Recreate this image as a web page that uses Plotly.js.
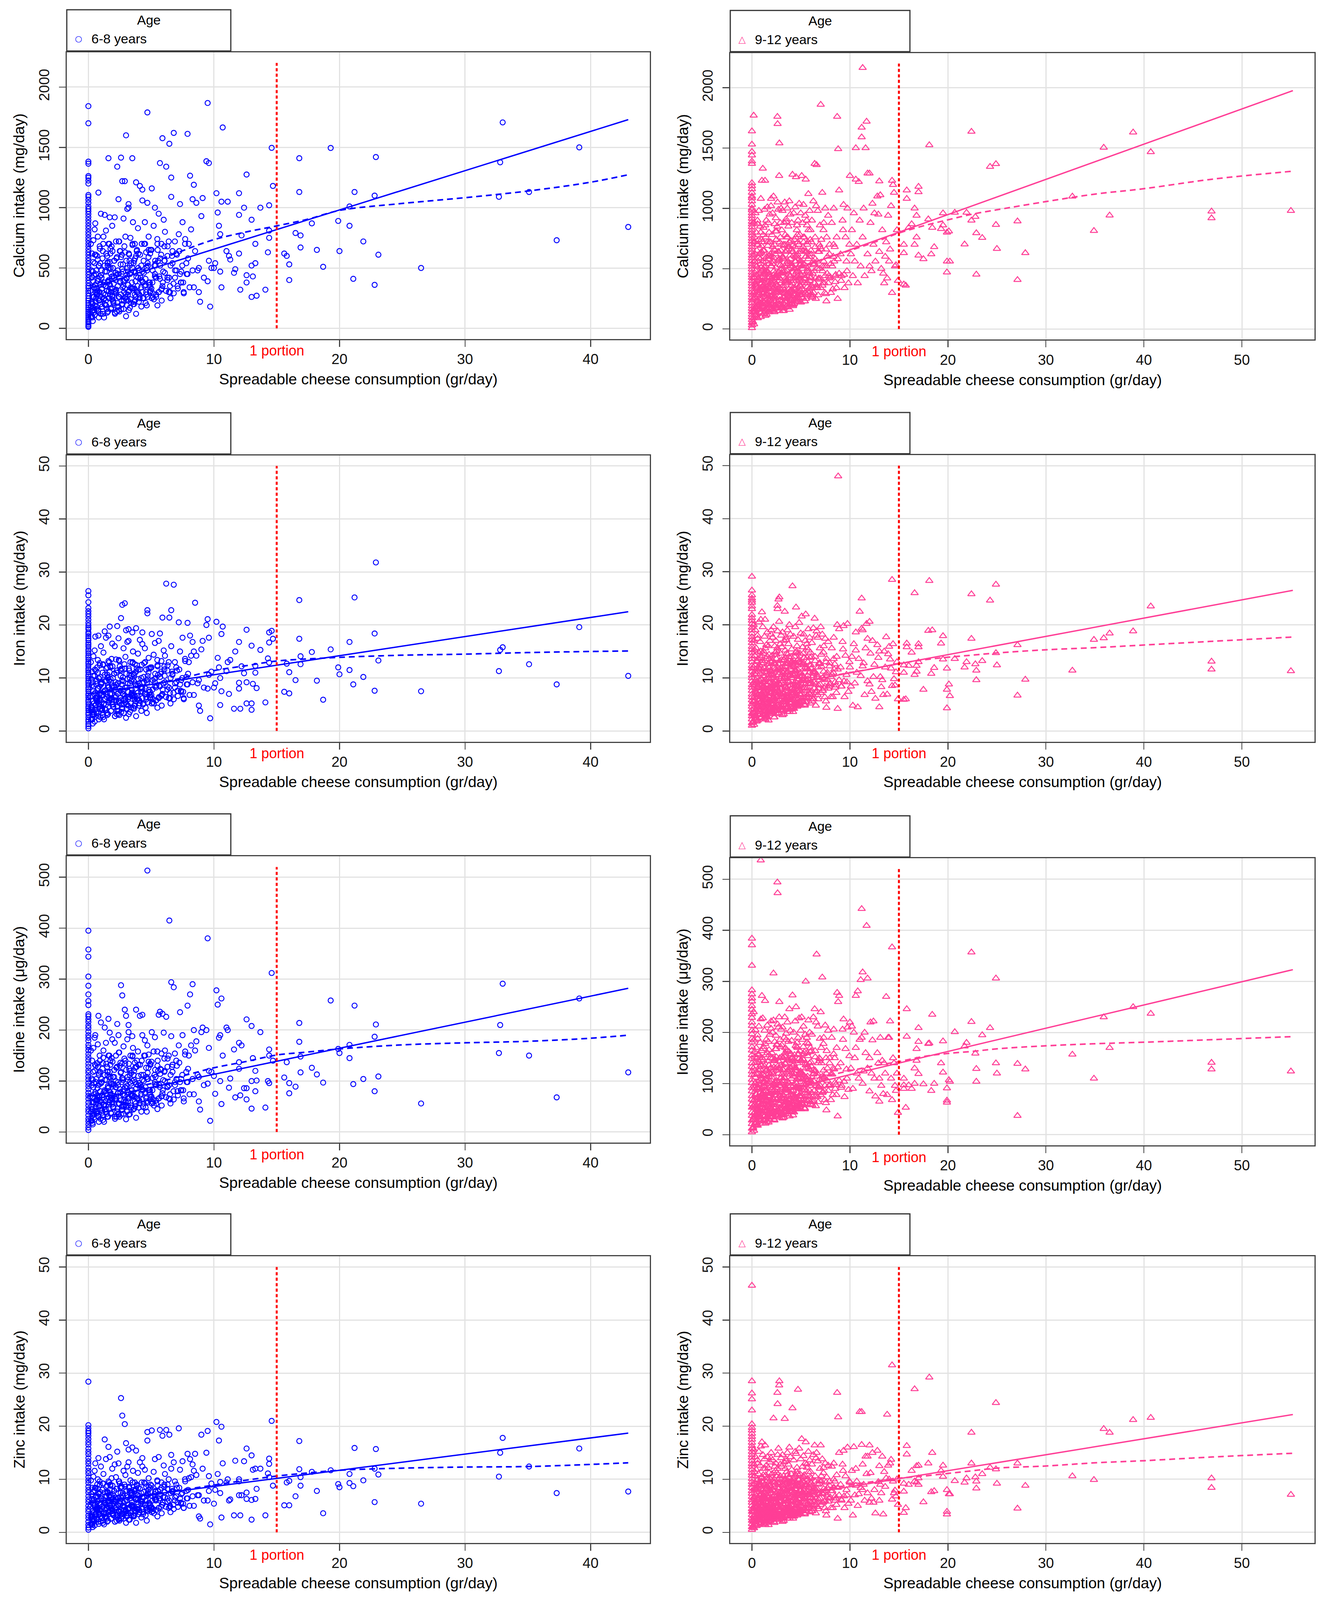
<!DOCTYPE html>
<html>
<head>
<meta charset="utf-8">
<script src="https://cdn.plot.ly/plotly-3.0.1.min.js"></script>
<style>
  html, body { margin: 0; padding: 0; background: #ffffff; overflow: hidden; }
  #chart { width: 100vw; height: 100vh; }
</style>
</head>
<body>
<div id="chart"></div>
<script>
// ---- 6-8 years: cheese eaters (g/day) and their intakes ----
const cheese68 = [
  0.15,0.2,0.25,0.3,0.3,0.35,0.4,0.4,0.45,0.5, 0.5,0.55,0.6,0.6,0.65,0.7,0.7,0.75,0.8,0.8, 0.85,0.9,0.9,0.95,1.0,0.2,0.35,0.5,0.65,0.8, 0.45,0.6,0.75,0.9,0.3,
  1.05,1.1,1.15,1.2,1.2,1.25,1.3,1.35,1.4,1.4, 1.45,1.5,1.5,1.55,1.6,1.6,1.65,1.7,1.7,1.75, 1.8,1.8,1.85,1.9,1.9,1.95,2.0,1.3,1.55,1.75,
  2.05,2.1,2.15,2.2,2.25,2.3,2.35,2.4,2.45,2.5, 2.55,2.6,2.65,2.7,2.75,2.8,2.85,2.9,2.95,3.0, 2.2,2.4,2.6,2.8,3.0,
  3.05,3.1,3.15,3.2,3.25,3.3,3.35,3.4,3.45,3.5, 3.55,3.6,3.65,3.7,3.75,3.8,3.85,3.9,3.95,3.2, 3.5,3.8,
  4.05,4.1,4.2,4.25,4.3,4.35,4.4,4.5,4.55,4.6, 4.65,4.7,4.75,4.8,4.9,4.95,4.7,4.3,
  5.05,5.1,5.2,5.3,5.35,5.4,5.5,5.6,5.65,5.7, 5.8,5.85,5.9,6.0,5.5,
  6.05,6.1,6.2,6.3,6.4,6.45,6.5,6.6,6.7,6.8, 6.9,6.6,
  7.0,7.1,7.2,7.3,7.4,7.5,7.6,7.7,7.8,7.9,
  8.0,8.1,8.3,8.4,8.6,8.7,8.8,8.9,8.5,
  9.0,9.1,9.4,9.5,9.5,9.6,9.7,9.8,
  10.0,10.1,10.2,10.3,10.4,10.5,10.5,10.6,10.6,10.7, 11.0,11.1,11.2,11.3,11.6,11.7,12.0,12.0,12.0,12.1, 12.2,12.4,12.6,12.6,12.6,13.0,13.0,13.0,13.1,13.3, 13.3,13.4,13.7,14.1,14.3,14.4,14.4,14.6,14.7,14.4,
  43.0,39.1,37.3,35.1,33.0,32.8,32.7,26.5,22.9,22.8, 22.8,23.1,21.2,21.1,20.8,20.8,21.9,19.3,19.9,20.0, 18.2,18.7,17.8,16.8,16.8,16.9,16.9,16.0,16.0,16.5, 15.6,15.8
];
const calcium68 = [
  310,95,480,620,210,150,730,390,260,540, 110,870,330,450,180,600,280,760,140,410, 520,230,680,360,950,700,60,820,160,1125, 440,250,570,300,200,
  420,180,640,290,760,90,520,350,810,230, 470,600,130,380,1410,700,250,550,920,330, 450,160,680,270,850,500,210,940,390,620,
  560,920,310,720,140,1340,480,1070,260,640, 380,1415,200,1220,530,910,300,1220,760,1600, 440,180,590,350,100,
  420,990,280,1030,610,170,750,460,330,1410, 880,540,220,700,390,1210,640,300,830,1000, 500,120,
  480,1180,340,700,1150,250,560,880,410,630, 190,1790,520,760,300,650,1040,1060,
  1160,380,850,1000,520,260,700,950,430,1370, 610,330,1576,900,190,
  560,800,1340,420,720,1530,300,1250,640,1620, 480,1090,
  620,350,780,1030,470,880,290,700,540,1612,
  700,1265,1070,1190,1040,480,300,220,640,
  930,1080,1385,1868,390,1370,180,500,
  500,540,1120,960,850,780,470,1050,340,1665, 640,1050,600,570,460,490,1120,620,940,320, 770,1000,1275,440,380,900,520,260,430,700, 540,270,1000,320,630,810,750,1496,1180,1020,
  840,1500,730,1130,1707,1376,1090,500,1420,1100, 360,610,1130,410,1010,850,720,1495,890,640, 650,510,870,1410,1130,670,770,530,400,790, 620,600
];
const iron68 = [
  6.5,2.1,9.8,11.2,4.3,3.0,14.1,7.5,5.2,10.4, 1.8,17.8,6.1,8.9,3.6,12.0,5.5,13.4,2.8,8.0, 9.9,4.6,12.8,7.1,16.0,13.0,1.4,15.2,3.3,18.0, 8.4,5.0,11.0,6.0,4.0,
  9.0,4.2,12.5,6.8,14.8,2.2,10.6,7.7,17.6,5.0, 9.5,12.0,3.0,8.3,18.0,13.2,5.8,11.1,19.7,7.0, 9.2,3.8,13.6,6.0,16.5,10.0,4.6,18.8,8.6,12.2,
  10.8,16.0,6.4,13.5,3.2,19.8,9.0,17.5,5.3,12.2, 7.6,21.3,4.4,23.8,10.1,15.6,6.0,24.1,14.0,19.0, 8.7,3.8,11.4,7.0,2.5,
  8.2,16.8,6.0,19.2,11.4,3.6,13.0,9.4,7.2,18.6, 15.0,10.8,4.8,12.6,8.0,19.4,11.8,6.6,14.6,17.0, 9.8,2.8,
  9.0,17.2,7.4,12.5,18.6,5.0,10.2,15.6,8.0,11.6, 3.4,22.8,9.8,13.8,6.2,12.0,22.2,16.4,
  18.3,7.8,14.4,16.6,10.0,5.8,12.4,17.0,8.6,18.4, 11.2,6.8,21.4,15.2,4.4,
  11.6,14.2,27.8,8.4,13.0,21.4,6.2,22.8,10.8,27.6, 9.0,16.0,
  12.0,7.6,20.5,15.0,9.6,17.6,6.0,13.6,10.2,20.4,
  13.0,18.0,16.8,15.0,14.2,9.0,4.8,3.8,24.2,
  15.4,17.0,20.0,21.1,8.0,17.6,2.4,11.2,
  8.2,9.0,20.6,13.8,12.0,10.0,4.9,18.3,7.5,19.7, 11.3,13.0,7.0,13.4,4.2,15.0,9.1,8.0,16.8,4.2, 12.2,10.9,19.1,9.2,5.2,16.1,4.0,5.2,8.9,11.0, 12.3,8.1,15.3,5.4,13.7,18.6,12.9,18.9,17.4,16.7,
  10.4,19.6,8.8,12.6,15.8,15.3,11.3,7.5,31.8,18.4, 7.6,13.3,25.2,8.8,16.8,11.5,10.2,15.4,12.0,10.7, 9.5,5.9,14.9,24.7,17.4,12.6,14.1,11.1,7.1,9.6, 7.4,12.7
];
const iodine68 = [
  70,22,105,140,45,35,165,88,58,120, 25,190,75,98,40,135,62,172,30,92, 115,52,150,80,215,160,15,185,36,228, 96,55,128,68,44,
  98,42,135,68,160,20,112,80,175,52, 102,128,30,86,222,150,58,118,195,72, 96,38,145,64,182,108,48,205,90,132,
  108,175,64,150,30,212,92,190,55,130, 78,288,44,268,105,168,62,240,140,228, 88,36,118,72,25,
  86,182,60,210,124,35,150,95,70,188, 165,112,46,136,84,240,128,66,158,196, 100,28,
  96,228,75,140,230,50,112,180,88,126, 40,513,104,152,64,132,170,190,
  196,82,158,186,108,56,130,230,92,236, 122,70,232,195,45,
  118,160,226,90,150,415,64,294,132,284, 98,188,
  140,80,170,235,104,190,60,152,118,248,
  150,270,290,200,178,112,60,44,160,
  196,205,200,380,95,165,22,118,
  110,75,278,250,185,190,100,262,55,150, 205,200,87,105,162,68,124,137,175,72, 170,86,221,86,64,208,46,100,145,120, 80,101,196,48,100,162,150,312,140,96,
  117,262,68,150,291,210,155,56,211,187, 80,109,248,94,171,145,104,258,163,155, 113,97,126,214,177,117,148,96,76,89, 107,137
];
const zinc68 = [
  4.8,1.6,7.2,8.4,3.1,2.2,10.5,5.6,3.8,7.9, 1.3,13.0,4.5,6.6,2.6,9.0,4.1,10.0,2.0,6.0, 7.4,3.4,9.6,5.2,12.4,9.8,1.0,11.6,2.4,14.0, 6.2,3.6,8.2,4.4,2.9,
  6.4,2.8,9.2,4.9,11.0,1.5,7.5,5.5,13.8,3.6, 6.9,8.8,2.0,5.8,16.1,9.6,4.0,8.0,14.2,5.0, 6.6,2.6,10.2,4.3,12.0,7.2,3.2,17.5,6.0,9.0,
  7.8,12.8,4.6,10.4,2.2,15.2,6.5,13.0,3.8,9.2, 5.4,25.3,3.0,22.0,7.4,11.6,4.2,20.4,10.8,16.8, 6.2,2.6,8.6,5.0,1.8,
  6.0,12.4,4.4,15.6,8.6,2.4,9.8,7.0,5.2,16.0, 11.6,8.0,3.2,9.4,6.2,15.4,9.0,4.8,11.2,13.2, 7.4,1.8,
  6.8,13.2,5.4,9.4,14.0,3.4,7.6,11.8,6.0,8.6, 2.2,18.9,7.2,10.2,4.2,9.0,17.3,12.4,
  19.2,6.0,11.4,13.8,7.6,4.2,9.6,14.2,6.4,19.3, 8.4,5.2,18.2,12.6,3.0,
  8.6,11.0,19.3,6.4,10.0,18.4,4.8,14.6,7.8,13.2, 6.6,12.0,
  9.0,5.6,19.6,11.8,7.2,13.4,4.6,10.0,7.8,14.8,
  10.2,13.8,12.8,11.6,10.8,7.0,3.0,2.6,14.8,
  18.4,12.0,15.0,19.1,6.0,10.6,1.5,9.2,
  5.4,8.0,20.8,11.0,17.3,9.5,7.4,19.9,2.8,13.0, 9.4,10.0,6.0,6.2,3.2,13.5,10.0,7.0,9.6,3.2, 7.0,13.4,15.8,6.3,7.5,14.5,6.1,2.4,11.8,12.0, 6.3,8.2,12.0,3.2,11.1,13.9,12.9,21.0,8.8,10.4,
  7.7,15.8,7.4,12.4,17.8,15.0,10.5,5.4,15.7,12.0, 5.7,10.9,15.9,8.7,11.0,9.3,9.8,11.7,9.1,8.5, 7.8,3.6,11.4,17.2,11.9,8.8,10.4,9.7,5.1,6.8, 5.1,9.4
];
// dense core of the 6-8 cloud
const cheese68Core = [
  0.22,0.27,0.33,0.38,0.42,0.47,0.52,0.57,0.62,0.67, 0.72,0.77,0.82,0.87,0.92,0.97,1.02,1.07,1.12,1.17,
  1.22,1.27,1.32,1.37,1.42,1.47,1.52,1.57,1.62,1.67, 1.72,1.77,1.82,1.87,1.92,1.97,2.02,2.07,2.12,2.17,
  2.22,2.27,2.32,2.37,2.42,2.47,2.52,2.57,2.62,2.67, 2.72,2.77,2.82,2.87,2.92,2.97,3.02,3.07,3.12,3.17,
  3.22,3.27,3.32,3.37,3.42,3.47,3.52,3.57,3.62,3.67, 3.72,3.77,3.82,3.87,3.92,3.97,4.02,4.12,4.22,4.32,
  4.42,4.52,4.62,4.72,4.82,4.92,5.02,5.12,5.22,5.32, 5.42,5.52,5.62,5.72,5.82,5.92,6.1,6.3,6.5,6.7,
  0.32,0.58,0.84,1.1,1.36,1.62,1.88,2.14,2.4,2.66, 2.92,3.18,3.44,3.7,3.96,4.3,4.6,4.9,5.3,5.7,
  0.25,0.36,0.48,0.59,0.71,0.83,0.94,1.06,1.18,1.29, 1.41,1.53,1.64,1.76,1.88,1.99,2.11,2.23,2.34,2.46,
  2.58,2.69,2.81,2.93,3.04,3.16,3.28,3.39,3.51,3.63, 3.74,3.86,3.98,4.09,4.21,4.33,4.44,4.56,4.68,4.79,
  4.91,5.03,5.14,5.26,5.38,5.49,5.61,5.73,5.84,5.96, 6.08,6.19,6.31,6.43,6.54,6.66,6.78,6.89,7.01,7.13,
  7.24,7.36,7.48,7.59,7.71,7.83,7.94,8.06,8.18,8.3, 0.3,0.55,0.8,1.05,1.3,1.55,1.8,2.05,2.3,2.55,
  2.8,3.05,3.3,3.55,3.8,4.05,4.3,4.55,4.8,5.05, 5.3,5.55,5.8,6.05,6.3,6.55,6.8,7.05,7.3,7.55,
  0.4,0.65,0.9,1.15,1.4,1.65,1.9,2.15,2.4,2.65, 2.9,3.15,3.4,3.65,3.9,4.15,4.4,4.65,4.9,5.15,
  0.28,0.5,0.73,0.97,1.22,1.47,1.72,1.97,2.22,2.47, 2.72,2.97,3.22,3.47,3.72,3.97,4.22,4.47,4.72,4.97,
  5.4,5.9,6.4,6.9,7.4,7.9,8.4,8.8,9.2,9.6
];
const calcium68Core = [
  180,420,260,550,130,340,610,220,480,300, 390,150,520,270,660,200,440,330,580,120,
  360,250,470,190,620,310,540,140,400,700, 280,500,170,430,640,230,370,560,120,460,
  320,590,210,450,720,260,390,530,160,610, 340,470,230,680,400,280,560,190,500,360,
  620,310,450,240,540,380,700,200,470,330, 580,260,430,650,350,500,220,610,400,300,
  460,700,280,540,380,620,330,480,240,560, 420,650,300,520,700,380,460,600,350,540,
  90,300,230,180,280,250,330,300,260,230, 250,300,330,280,420,390,300,360,450,410,
  220,470,150,610,330,90,540,260,700,380, 190,520,310,660,240,430,130,580,350,720,
  280,490,160,630,410,230,560,340,690,200, 460,300,620,250,520,380,700,210,480,590,
  340,650,260,520,420,740,300,580,230,470, 560,310,680,420,250,600,370,720,480,330,
  640,380,520,300,740,450,580,340,820,480, 140,360,250,480,200,550,300,420,180,640,
  390,240,520,330,600,280,470,360,650,250, 430,560,320,680,400,520,290,610,450,380,
  170,280,430,140,350,500,260,400,150,450, 330,470,210,560,300,420,250,500,380,290,
  100,190,310,120,240,160,360,220,290,140, 200,260,150,330,230,290,180,350,260,310,
  280,350,300,420,380,450,340,500,420,560
];
const iron68Core = [
  4.0,8.6,5.6,10.4,3.0,7.0,11.6,4.8,9.4,6.2, 8.0,3.4,10.0,5.8,12.4,4.2,8.8,6.8,11.0,2.6,
  7.4,5.2,9.4,4.0,11.8,6.4,10.6,3.2,8.2,13.0, 6.0,9.8,3.8,8.6,12.2,5.0,7.6,10.8,2.8,9.2,
  6.6,11.4,4.6,9.0,13.4,5.6,8.0,10.4,3.6,11.8, 7.0,9.4,5.0,12.6,8.2,6.0,10.8,4.2,9.8,7.4,
  11.8,6.4,9.0,5.2,10.4,7.8,13.0,4.4,9.4,6.8, 11.0,5.6,8.6,12.4,7.2,9.8,4.8,11.6,8.2,6.2,
  9.2,13.0,6.0,10.4,7.8,11.8,6.8,9.6,5.2,10.8, 8.6,12.2,6.4,10.2,13.2,7.8,9.2,11.4,7.2,10.6,
  2.2,6.2,5.0,4.0,6.0,5.4,7.0,6.4,5.6,5.0, 5.4,6.4,7.0,6.0,8.6,8.0,6.4,7.4,9.2,8.4,
  4.6,9.2,3.2,11.4,6.6,2.2,10.2,5.4,12.6,7.6, 4.0,10.0,6.2,12.0,5.0,8.4,2.8,11.0,7.0,13.2,
  5.8,9.6,3.4,11.8,8.2,4.8,10.6,6.8,12.8,4.2, 8.8,6.0,11.6,5.2,10.0,7.4,12.8,4.4,9.2,11.0,
  6.8,12.0,5.4,9.8,8.2,13.4,6.2,10.8,4.8,9.0, 10.4,6.4,12.4,8.2,5.2,11.2,7.2,13.0,9.2,6.6,
  11.6,7.6,10.0,6.2,13.2,8.8,10.8,6.8,14.2,9.2, 3.2,7.2,5.2,9.2,4.2,10.2,6.2,8.2,3.8,11.6,
  7.6,5.0,10.0,6.6,11.2,5.8,9.0,7.0,11.8,5.2, 8.4,10.6,6.6,12.2,7.8,10.0,6.0,11.4,8.8,7.4,
  3.6,5.8,8.4,3.0,7.0,9.6,5.4,7.8,3.2,8.8, 6.6,9.0,4.4,10.6,6.0,8.2,5.2,9.6,7.4,6.0,
  2.2,4.0,6.2,2.6,5.0,3.4,7.0,4.6,5.8,3.0, 4.2,5.4,3.2,6.6,4.8,6.0,3.8,7.0,5.4,6.4,
  5.8,7.0,6.2,8.2,7.4,8.8,6.8,9.6,8.2,10.6
];
const iodine68Core = [
  40,92,58,118,28,74,132,48,104,64, 86,32,112,60,140,44,96,72,124,24,
  78,54,102,40,134,66,118,30,88,150, 62,108,36,94,138,50,80,122,26,100,
  70,128,46,98,156,56,84,116,34,134, 74,102,50,144,88,60,122,40,108,78,
  134,66,98,52,116,82,150,44,102,70, 126,56,94,140,76,110,48,132,88,64,
  100,150,60,116,82,134,70,106,52,122, 92,140,66,114,154,82,100,128,74,118,
  18,62,50,38,60,54,72,66,56,50, 54,66,72,60,92,84,66,78,98,88,
  50,102,34,130,72,20,118,58,146,82, 44,112,68,140,54,94,30,126,76,156,
  62,106,36,134,90,52,120,74,148,46, 98,66,132,56,112,82,150,48,104,126,
  74,138,58,112,92,158,66,124,52,102, 120,68,144,92,56,128,80,154,104,72,
  136,82,112,66,158,98,124,74,170,104, 32,78,56,104,44,118,66,92,40,136,
  84,52,112,72,128,62,102,78,138,56, 94,120,70,144,88,112,64,130,98,82,
  38,62,94,32,76,108,58,88,34,98, 72,102,48,120,66,92,56,108,82,64,
  22,42,68,26,54,36,78,48,64,30, 44,58,34,72,50,64,40,76,58,68,
  62,76,66,92,82,98,74,108,92,120
];
const zinc68Core = [
  2.8,6.2,4.0,7.6,2.0,5.0,8.4,3.4,6.8,4.4, 5.8,2.4,7.2,4.2,9.0,3.0,6.4,4.8,8.0,1.8,
  5.2,3.6,6.8,2.8,8.6,4.6,7.6,2.2,6.0,9.4, 4.2,7.0,2.6,6.2,8.8,3.6,5.4,7.8,2.0,6.6,
  4.8,8.2,3.2,6.4,9.6,4.0,5.8,7.4,2.6,8.6, 5.0,6.8,3.6,9.0,5.8,4.2,7.8,3.0,7.0,5.2,
  8.4,4.6,6.4,3.6,7.4,5.6,9.4,3.2,6.6,4.8, 7.8,4.0,6.2,8.8,5.2,7.0,3.4,8.2,5.8,4.4,
  6.6,9.2,4.2,7.4,5.6,8.4,4.8,6.8,3.6,7.8, 6.2,8.8,4.6,7.2,9.4,5.6,6.6,8.2,5.0,7.6,
  1.4,4.4,3.6,2.8,4.2,3.8,5.0,4.6,4.0,3.6, 3.8,4.6,5.0,4.2,6.2,5.8,4.6,5.2,6.6,6.0,
  3.4,6.8,2.4,8.4,4.8,1.6,7.6,4.0,9.2,5.6, 3.0,7.4,4.6,8.8,3.6,6.2,2.0,8.2,5.2,9.6,
  4.2,7.0,2.6,8.6,6.0,3.6,7.8,5.0,9.4,3.0, 6.4,4.4,8.4,3.8,7.4,5.4,9.4,3.2,6.8,8.0,
  5.0,8.8,4.0,7.2,6.0,9.8,4.6,8.0,3.6,6.6, 7.6,4.8,9.0,6.0,3.8,8.2,5.2,9.6,6.8,4.8,
  8.4,5.6,7.4,4.6,9.6,6.4,8.0,5.0,10.4,6.8, 2.4,5.2,3.8,6.8,3.0,7.6,4.6,6.0,2.8,8.4,
  5.6,3.6,7.4,4.8,8.2,4.2,6.6,5.2,8.6,3.8, 6.2,7.8,4.8,9.0,5.8,7.4,4.4,8.4,6.4,5.4,
  2.6,4.2,6.2,2.2,5.2,7.0,4.0,5.8,2.4,6.4, 4.8,6.6,3.2,7.8,4.4,6.0,3.8,7.0,5.4,4.4,
  1.6,3.0,4.6,2.0,3.6,2.6,5.2,3.4,4.2,2.2, 3.0,4.0,2.4,4.8,3.6,4.4,2.8,5.2,4.0,4.6,
  4.2,5.2,4.6,6.0,5.4,6.4,5.0,7.0,6.0,7.8
];
// 6-8 years, no cheese (0 g/day)
const calcium68Zero = [12,20,33,47,60,76,91,108,124,139,157,173,192,210,229,247,268,290,311,333,352,376,398,421,445,468,490,514,537,561,584,609,631,655,680,703,728,751,777,800,826,849,874,898,923,947,970,990,1010,1040,1065,1090,1105,1200,1225,1248,1262,1365,1382,1700,1842];
const iron68Zero = [0.5,0.9,1.3,1.8,2.1,2.6,3.1,3.4,3.9,4.3,4.6,5.1,5.5,5.8,6.3,6.7,7.0,7.5,7.9,8.2,8.7,9.1,9.4,9.9,10.3,10.6,11.1,11.5,11.8,12.3,12.7,13.0,13.5,13.9,14.2,14.7,15.1,15.4,15.9,16.3,16.6,17.1,17.5,17.9,18.3,18.6,19.2,19.5,19.9,20.4,21.0,21.6,22.1,22.6,23.2,24.3,25.6,26.4];
const iodine68Zero = [4,9,15,21,26,33,40,45,52,58,65,71,77,84,90,96,103,109,116,121,128,134,141,147,153,160,166,171,179,185,190,197,204,209,216,221,227,231,249,257,270,287,305,344,358,395];
const zinc68Zero = [0.5,0.9,1.4,2.0,2.7,3.2,3.9,4.4,5.0,5.7,6.2,6.8,7.5,8.0,8.6,9.3,9.8,10.4,11.1,11.6,12.2,12.9,13.4,14.0,14.7,15.2,15.8,16.5,17.0,17.6,18.2,18.7,19.1,19.6,20.2,28.4];

// ---- 9-12 years ----
const cheese912 = [
  0.12,0.16,0.19,0.21,0.24,0.26,0.29,0.31,0.33,0.36, 0.39,0.41,0.44,0.46,0.49,0.51,0.53,0.56,0.59,0.61, 0.64,0.66,0.69,0.71,0.73,0.76,0.79,0.81,0.84,0.86, 0.89,0.91,0.93,0.96,0.99,1.02,0.28,0.48,0.68,0.88, 0.18,0.38,0.58,0.78,0.97,
  1.03,1.05,1.08,1.11,1.13,1.16,1.18,1.21,1.24,1.26, 1.29,1.31,1.34,1.37,1.39,1.42,1.44,1.47,1.49,1.52, 1.55,1.57,1.6,1.62,1.65,1.68,1.7,1.73,1.75,1.78, 1.81,1.83,1.86,1.88,1.91,1.94,1.96,1.99,1.15,1.35, 1.55,1.75,1.95,1.25,1.45,
  2.02,2.05,2.08,2.11,2.14,2.17,2.2,2.23,2.26,2.29, 2.32,2.35,2.38,2.41,2.44,2.47,2.5,2.53,2.56,2.59, 2.62,2.65,2.68,2.71,2.74,2.77,2.8,2.83,2.86,2.89, 2.92,2.95,2.98,2.6,2.62,2.78,2.2,2.4,2.9,2.3,
  3.02,3.05,3.09,3.12,3.15,3.19,3.22,3.25,3.29,3.32, 3.35,3.39,3.42,3.45,3.49,3.52,3.55,3.59,3.62,3.65, 3.69,3.72,3.75,3.79,3.82,3.85,3.89,3.92,3.95,3.99, 3.3,3.5,3.7,3.9,3.4,
  4.02,4.06,4.1,4.14,4.18,4.22,4.26,4.3,4.34,4.38, 4.42,4.46,4.5,4.54,4.58,4.62,4.66,4.7,4.74,4.78, 4.82,4.86,4.9,4.94,4.98,4.2,4.4,4.6,4.8,4.5,
  5.03,5.08,5.12,5.17,5.21,5.26,5.3,5.35,5.4,5.44, 5.49,5.53,5.58,5.62,5.67,5.71,5.76,5.8,5.85,5.89, 5.94,5.98,5.3,5.6,5.9,
  6.05,6.12,6.2,6.27,6.35,6.4,6.45,6.52,6.6,6.65, 6.72,6.8,6.87,6.94,6.3,6.55,6.75,6.9,
  7.02,7.1,7.18,7.25,7.33,7.4,7.48,7.55,7.63,7.7, 7.78,7.85,7.93,7.3,7.6,
  8.05,8.15,8.25,8.35,8.45,8.55,8.65,8.7,8.8,8.9, 8.75,8.3,
  9.05,9.15,9.25,9.35,9.45,9.55,9.65,9.75,9.85,9.95, 9.3,9.7,
  10.0,10.1,10.2,10.3,10.4,10.5,10.6,10.6,10.7,10.8, 10.9,11.0,11.1,11.2,11.2,11.3,11.3,11.5,11.6,11.7, 11.8,11.8,12.0,12.0,12.1,12.2,12.3,12.4,12.5,12.6, 12.8,12.9,13.0,13.0,13.1,13.2,13.3,13.4,13.5,13.6, 13.7,13.8,13.9,14.0,14.1,14.2,14.3,14.3,14.4,14.5, 14.6,14.7,14.8,14.9,11.4,
  55.0,46.9,46.9,40.7,38.9,35.9,36.5,34.9,32.7,27.1, 27.1,27.9,24.9,24.3,22.4,24.9,25.0,22.9,23.5,22.9, 21.7,22.8,22.4,21.9,20.7,19.5,19.3,19.5,19.9,20.1, 18.4,18.0,18.6,18.3,19.9,19.9,20.2,17.0,16.8,16.6, 17.0,17.0,16.8,16.3,16.0,18.1,15.8,15.8,15.5,15.5, 15.7,15.5,16.6,17.5
];
const calcium912 = [
  250,610,140,880,420,310,720,180,530,960, 370,260,800,450,120,650,340,900,230,560, 410,740,160,980,300,620,470,200,850,380, 540,1080,280,690,430,1230,760,100,590,330, 1770,480,870,220,640,
  380,720,190,1330,560,290,840,450,130,650, 990,340,1230,520,230,760,410,900,170,600, 470,1010,280,690,360,880,140,540,800,310, 430,950,250,620,720,380,1080,200,500,860, 330,580,1020,460,150,
  420,780,210,960,560,330,1100,480,150,700, 870,390,620,260,920,510,740,180,440,850, 1050,640,300,990,570,400,1540,720,240,880, 460,650,1000,1760,1700,1270,340,810,530,140,
  460,820,230,980,590,360,700,150,880,520, 1050,300,640,420,910,250,760,480,1000,180, 560,850,390,680,1060,270,610,950,440,730, 320,890,540,200,780,
  520,880,270,1280,640,400,960,210,740,560, 1010,330,1260,470,820,600,250,900,440,700, 1040,360,780,530,960,190,680,860,420,610,
  560,1270,300,880,680,1030,420,760,230,940, 1240,520,640,860,350,720,1120,470,600,980, 280,820,540,900,400,
  620,900,340,1060,480,1370,760,250,1360,560, 980,420,700,860,300,1020,640,500,
  1860,660,1130,380,880,520,1000,290,760,600, 940,440,700,820,230,
  540,880,330,1000,680,450,760,1760,1492,1150, 250,600,
  620,440,900,1030,340,760,560,1000,380,700, 820,480,
  1270,620,820,440,960,560,1500,1240,700,380, 1220,900,520,1590,1670,2165,760,440,1500,1720, 1290,620,1290,520,880,480,1040,700,960,560, 1100,950,1225,640,1110,500,820,460,380,600, 720,420,940,560,660,1020,1230,300,1195,1130, 520,530,820,400,1000,
  980,975,919,1467,1630,1504,942,814,1099,893, 407,630,1368,1345,1636,864,665,795,756,452, 702,930,900,965,965,960,830,860,800,810, 840,910,680,620,470,560,560,610,760,700, 1180,1135,940,870,840,1525,1150,1080,700,630, 360,370,1000,580
];
const iron912 = [
  5.5,12.0,2.8,17.0,8.6,6.4,14.2,3.5,10.6,19.0, 7.4,5.2,15.6,9.2,2.2,13.0,6.8,18.0,4.6,11.2, 8.2,14.8,3.2,20.5,6.0,12.4,9.4,4.0,16.8,7.6, 10.8,21.0,5.6,13.8,8.6,22.4,15.2,1.8,11.8,6.6, 20.0,9.6,17.4,4.4,12.8,
  7.0,13.2,3.0,19.6,10.4,5.2,15.0,8.4,2.4,11.8, 17.8,6.4,21.0,9.6,4.2,13.6,7.6,16.2,2.8,11.0, 8.8,18.6,5.0,12.6,6.6,16.0,2.0,10.0,14.4,5.8, 8.0,17.0,4.6,11.4,13.0,7.0,19.0,3.6,9.2,15.6, 6.0,10.6,18.2,8.4,2.6,
  8.0,14.2,3.8,17.6,10.4,6.2,19.6,9.0,2.6,12.8, 16.0,7.2,11.6,4.6,17.0,9.4,13.6,3.2,8.2,15.6, 18.8,11.8,5.6,24.8,10.6,7.4,25.2,13.2,4.4,16.4, 8.6,12.0,18.0,23.6,23.0,20.6,6.2,14.8,9.8,2.6,
  9.0,15.8,4.6,18.6,11.6,7.0,13.4,3.2,17.0,10.2, 22.5,6.0,12.6,8.4,17.6,5.0,14.6,9.4,19.0,3.6, 11.0,16.4,7.6,13.2,20.0,5.4,12.0,18.2,8.6,14.0, 6.4,17.2,10.6,4.0,15.2,
  10.0,15.4,5.4,27.3,12.4,7.8,17.8,4.2,14.0,10.8, 19.6,6.6,23.3,9.0,15.0,11.6,4.8,17.2,8.4,13.0, 20.4,7.0,14.6,10.2,18.4,3.6,12.8,16.0,8.0,11.4,
  10.4,21.6,6.0,15.8,12.6,18.2,8.2,13.8,4.8,17.0, 22.0,9.6,11.8,15.6,6.8,13.0,19.2,9.0,11.0,17.6, 5.2,14.8,10.2,16.4,7.6,
  11.8,16.6,6.8,19.4,9.2,21.2,14.0,4.8,18.8,10.6, 17.6,8.0,12.8,15.6,6.0,18.0,12.0,9.6,
  19.6,12.2,18.2,7.6,16.0,9.8,17.4,5.6,13.6,11.0, 16.8,8.4,12.8,14.8,4.4,
  10.2,15.6,6.4,17.6,12.6,8.6,14.0,20.0,48.0,19.2, 4.2,11.0,
  12.0,8.4,16.8,19.8,6.4,14.2,10.6,20.2,7.4,13.0, 15.4,9.2,
  12.0,8.4,14.0,4.8,16.4,9.0,18.6,15.2,11.0,4.5, 13.6,22.5,10.4,19.3,25.0,19.0,12.2,6.8,15.6,20.2, 17.4,9.4,20.6,8.8,14.6,7.4,17.0,10.2,12.5,6.1, 16.2,13.8,15.0,4.5,10.2,8.3,9.6,6.8,15.0,12.0, 17.7,6.9,14.5,15.9,13.5,11.8,28.5,8.5,16.4,9.8, 8.6,11.1,13.0,6.0,12.8,
  11.3,13.1,11.6,23.5,18.8,17.5,18.4,17.2,11.4,16.2, 6.7,9.7,27.6,24.6,25.8,14.7,12.4,11.4,13.2,9.6, 12.0,12.6,17.4,13.0,13.6,17.9,16.5,13.5,11.8,8.8, 19.0,18.9,11.9,10.8,4.3,7.8,6.6,13.0,12.3,10.6, 16.4,15.8,11.2,14.8,12.3,28.3,16.5,15.8,12.4,11.0, 6.0,5.9,26.0,7.8
];
const iodine912 = [
  55,130,30,185,92,68,152,38,112,205, 80,56,170,96,24,140,72,195,48,120, 88,158,34,212,64,132,100,42,180,82, 116,226,60,146,90,272,162,18,126,70, 240,102,188,46,136,
  80,150,38,228,118,60,172,94,28,134, 204,72,262,108,48,156,86,186,34,126, 100,214,56,144,76,182,24,114,166,66, 92,196,52,130,150,80,222,40,104,178, 68,120,208,96,30,
  88,160,42,200,118,70,224,100,30,146, 182,82,130,54,194,106,152,36,92,176, 216,134,62,210,120,84,260,150,50,186, 96,136,206,494,473,230,316,168,110,28,
  100,175,50,210,128,78,150,34,190,112, 230,64,138,92,198,54,166,104,220,40, 122,182,86,146,246,60,132,204,96,158, 70,186,118,44,170,
  110,184,58,273,134,86,200,44,156,118, 222,70,250,100,172,126,52,190,94,148, 228,76,164,112,204,38,144,180,90,130,
  120,230,66,186,148,212,92,162,50,196, 300,112,138,180,76,154,224,102,128,200, 60,170,116,190,86,
  134,196,74,230,104,246,164,56,353,120, 212,92,150,188,66,220,140,108,
  240,140,308,84,190,112,214,62,164,130, 204,96,150,178,48,
  118,190,78,206,150,98,170,278,260,272, 36,130,
  140,96,206,226,74,168,128,210,88,154, 186,110,
  220,130,212,90,200,150,272,170,120,281, 110,186,303,442,190,318,100,200,160,409, 306,130,150,85,220,120,185,222,110,75, 160,140,110,65,190,96,145,80,140,120, 270,78,190,190,222,110,367,68,150,140, 96,86,120,43,124,
  124,141,128,237,250,230,170,110,157,139, 37,128,306,209,357,140,120,129,195,104, 173,159,221,180,201,183,140,122,91,107, 235,178,100,86,63,67,104,119,168,130, 209,182,145,90,97,179,246,192,110,97, 53,90,100,99
];
const zinc912 = [
  4.0,9.0,2.0,12.8,6.4,4.8,10.6,2.6,8.0,14.2, 5.6,3.8,11.8,6.8,1.6,9.8,5.0,13.6,3.4,8.4, 6.2,11.0,2.4,15.2,4.4,9.4,7.0,3.0,12.6,5.6, 8.2,16.2,4.2,10.2,6.4,17.0,11.4,1.2,8.8,5.0, 15.6,7.2,13.0,3.2,9.6,
  5.4,10.4,2.4,14.6,8.0,3.8,12.0,6.6,1.6,9.0, 13.8,4.8,16.4,7.4,3.0,10.8,5.8,12.6,2.0,8.6, 6.8,14.2,3.6,9.8,5.0,12.2,1.4,7.8,11.2,4.4, 6.2,13.2,3.4,8.8,10.0,5.2,15.0,2.6,7.0,12.0, 4.6,8.2,14.0,6.4,1.8,
  6.2,11.0,2.8,13.6,8.0,4.8,21.5,7.0,2.0,10.0, 12.4,5.6,9.0,3.6,13.0,7.4,10.6,2.4,6.4,12.0, 14.6,9.2,4.2,15.8,8.2,5.8,28.5,10.2,3.2,12.8, 6.8,9.4,14.0,26.3,24.2,27.7,4.8,11.6,7.6,1.8,
  7.2,12.4,3.4,14.6,9.0,5.4,10.6,2.2,13.2,8.0, 21.4,4.4,9.8,6.4,13.8,3.6,11.4,7.2,15.0,2.6, 8.6,12.8,5.8,10.4,16.0,4.0,9.4,14.2,6.8,11.0, 5.0,13.4,8.2,3.0,12.0,
  7.6,11.8,4.0,23.4,9.4,6.0,13.6,3.0,10.6,8.2, 15.2,5.0,14.8,7.0,11.4,8.8,3.6,26.9,6.4,9.8, 15.8,5.4,11.0,7.8,13.8,2.6,9.6,12.2,6.2,8.6,
  8.0,17.6,4.6,12.4,9.6,14.4,6.2,10.8,3.4,13.0, 17.0,7.4,9.0,12.2,5.2,10.0,15.2,7.0,8.4,13.6, 3.8,11.4,7.8,12.8,5.8,
  9.2,12.8,5.0,14.6,7.0,16.4,10.6,3.6,15.0,8.2, 13.4,6.2,9.8,12.0,4.4,14.0,9.0,7.2,
  16.4,9.6,13.8,5.6,12.2,7.4,13.0,4.0,10.4,8.4, 12.6,6.4,9.6,11.2,3.2,
  7.8,12.4,4.6,13.0,9.6,6.4,10.8,26.3,21.7,15.0, 2.6,8.4,
  9.0,6.0,12.8,15.4,4.6,10.6,8.0,16.0,5.4,9.6, 11.6,7.0,
  9.4,6.0,11.6,3.2,16.1,7.0,12.0,8.8,9.6,5.0, 7.2,22.7,8.4,22.7,16.5,12.8,8.0,6.0,14.3,11.0, 14.3,7.4,16.4,5.6,11.2,6.4,15.0,5.6,8.0,3.6, 15.4,9.5,12.5,6.0,9.0,7.4,14.3,3.4,11.4,8.6, 10.2,22.2,12.6,10.0,13.0,13.7,31.5,6.2,9.6,7.4, 7.9,6.8,10.0,5.2,9.0,
  7.1,10.2,8.4,21.6,21.2,19.5,18.8,9.9,10.6,13.0, 4.5,8.8,24.4,12.2,18.8,11.9,9.2,9.6,11.0,8.3, 9.4,10.4,13.0,10.2,9.7,12.6,11.6,10.5,8.0,7.2, 15.0,13.0,7.8,7.6,3.4,3.9,7.2,9.0,12.5,9.6, 12.6,10.2,9.4,11.6,9.0,29.2,16.3,14.7,9.2,7.7, 4.6,3.7,27.0,5.7
];
// dense core of the 9-12 cloud
const cheese912Core = [
  0.14,0.2,0.26,0.32,0.38,0.44,0.5,0.56,0.62,0.68, 0.74,0.8,0.86,0.92,0.98,1.04,1.1,1.16,1.22,1.28,
  1.34,1.4,1.46,1.52,1.58,1.64,1.7,1.76,1.82,1.88, 1.94,2.0,2.06,2.12,2.18,2.24,2.3,2.36,2.42,2.48,
  2.54,2.6,2.66,2.72,2.78,2.84,2.9,2.96,3.02,3.08, 3.14,3.2,3.26,3.32,3.38,3.44,3.5,3.56,3.62,3.68,
  3.74,3.8,3.86,3.92,3.98,4.04,4.1,4.16,4.22,4.28, 4.34,4.4,4.46,4.52,4.58,4.64,4.7,4.76,4.82,4.88,
  4.94,5.0,5.08,5.16,5.24,5.32,5.4,5.48,5.56,5.64, 5.72,5.8,5.88,5.96,6.06,6.16,6.26,6.36,6.46,6.56,
  6.66,6.76,6.86,6.96,7.08,7.2,7.32,7.44,7.56,7.68, 7.8,7.92,8.06,8.2,8.34,8.48,8.62,8.76,8.9,9.1,
  0.17,0.29,0.41,0.53,0.65,0.77,0.89,1.01,1.13,1.25, 1.37,1.49,1.61,1.73,1.85,1.97,2.09,2.21,2.33,2.45,
  2.57,2.69,2.81,2.93,3.05,3.17,3.29,3.41,3.53,3.65, 3.77,3.89,4.01,4.13,4.25,4.37,4.49,4.61,4.73,4.85,
  4.97,5.12,5.28,5.44,5.6,5.76,5.92,6.1,6.3,6.5, 0.23,0.47,0.71,0.95,1.19,1.43,1.67,1.91,2.15,2.39,
  2.63,2.87,3.11,3.35,3.59,3.83,4.07,4.31,4.55,4.79, 5.04,5.36,5.68,6.0,6.4,6.8,7.2,7.6,8.0,8.4,
  0.35,0.59,0.83,1.07,1.31,1.55,1.79,2.03,2.27,2.51, 2.75,2.99,3.23,3.47,3.71,3.95,4.19,4.43,4.67,4.91,
  5.2,5.52,5.84,6.2,6.6,7.0,7.4,7.9,8.5,9.4, 0.11,0.22,0.37,0.6,0.9,1.2,1.5,1.8,2.1,2.45,
  2.8,3.15,3.5,3.85,4.2,4.6,5.0,5.5,6.0,0.9,
  0.15,0.27,0.4,0.52,0.65,0.77,0.9,1.02,1.15,1.27, 1.4,1.52,1.65,1.77,1.9,2.02,2.15,2.27,2.4,2.52,
  2.65,2.77,2.9,3.02,3.15,3.27,3.4,3.52,3.65,3.77, 3.9,4.02,4.15,4.27,4.4,4.52,4.65,4.77,4.9,5.02,
  5.15,5.27,5.4,5.52,5.65,5.77,5.9,6.02,6.15,6.27, 0.2,0.45,0.7,0.95,1.2,1.45,1.7,1.95,2.2,2.45,
  2.7,2.95,3.2,3.45,3.7,3.95,4.2,4.45,4.7,4.95, 5.2,5.45,5.7,5.95,6.2,6.45,6.7,6.95,7.2,7.45,
  0.32,0.57,0.82,1.07,1.32,1.57,1.82,2.07,2.32,2.57, 2.82,3.07,3.32,3.57,3.82,4.07,4.32,4.57,4.82,5.07,
  0.13,0.38,0.63,0.88,1.13,1.38,1.63,1.88,2.13,2.38, 2.63,2.88,3.13,3.38,3.63,3.88,4.13,4.38,4.63,4.88
];
const calcium912Core = [
  140,430,260,620,180,350,520,230,700,300, 460,160,580,320,740,210,400,650,270,510,
  380,150,560,290,720,200,450,610,340,240, 520,170,400,680,260,590,350,460,200,740,
  310,560,220,640,420,270,760,380,500,180, 600,340,470,230,700,400,540,290,650,200,
  450,720,310,580,250,660,380,520,200,610, 340,560,760,290,480,620,230,700,410,530,
  360,640,280,520,760,440,230,600,380,700, 480,300,620,420,720,260,560,380,680,340,
  500,280,640,420,740,360,560,300,660,460, 380,620,300,520,700,440,340,580,460,400,
  250,560,180,400,320,620,210,480,350,130, 330,480,250,600,190,420,540,300,650,370,
  460,200,580,330,520,260,690,390,230,560, 330,520,240,640,420,290,560,360,480,250,
  540,330,650,420,290,580,460,360,530,420, 190,300,420,250,360,290,470,350,280,440,
  360,420,300,480,380,440,320,500,400,470, 450,380,500,430,540,410,480,520,430,560,
  110,200,140,230,160,250,180,270,190,300, 210,320,180,250,300,200,340,230,280,320,
  260,300,330,280,360,340,380,420,390,450, 60,40,120,90,100,130,120,140,150,170,
  150,170,190,160,200,230,220,250,280,800,
  300,560,180,700,420,250,630,350,780,470, 210,600,390,720,270,520,160,660,440,810,
  330,580,200,700,480,260,640,400,760,290, 540,360,690,280,600,430,780,240,560,660,
  400,720,300,600,480,820,340,650,270,540, 160,360,280,510,220,460,340,600,250,420,
  470,300,580,380,680,320,520,420,720,350, 500,640,380,740,460,580,340,680,520,440,
  110,240,170,330,140,300,200,380,230,320, 240,190,300,230,270,210,330,260,310,280,
  90,150,200,130,180,110,220,160,210,190, 170,200,150,230,180,260,210,250,230,280
];
const iron912Core = [
  3.4,9.0,5.6,12.4,4.0,7.4,10.8,5.0,13.6,6.4, 9.6,3.6,11.6,6.8,14.2,4.6,8.4,12.8,5.8,10.4,
  8.0,3.2,11.2,6.2,14.0,4.4,9.2,12.0,7.2,5.2, 10.6,3.8,8.4,13.2,5.6,11.8,7.4,9.6,4.4,14.4,
  6.6,11.4,4.8,12.6,8.8,5.8,14.6,8.0,10.2,4.0, 12.0,7.2,9.8,5.0,13.8,8.4,11.0,6.2,12.8,4.4,
  9.4,14.0,6.6,11.6,5.4,13.0,8.0,10.6,4.6,12.2, 7.2,11.2,14.8,6.2,9.8,12.4,5.0,13.6,8.6,10.8,
  7.6,12.8,6.0,10.4,14.6,9.0,5.0,12.0,8.0,13.8, 9.8,6.4,12.4,8.8,14.0,5.6,11.2,8.0,13.2,7.2,
  10.2,6.0,12.6,8.8,14.4,7.6,11.2,6.4,13.0,9.6, 8.0,12.2,6.4,10.6,13.6,9.2,7.2,11.6,9.6,8.4,
  5.4,11.2,4.0,8.4,6.8,12.4,4.6,9.8,7.4,3.0, 7.0,9.8,5.4,12.0,4.2,8.8,10.8,6.4,12.8,7.8,
  9.6,4.4,11.6,7.0,10.6,5.6,13.4,8.2,5.0,11.2, 7.0,10.6,5.2,12.6,8.8,6.2,11.2,7.6,9.8,5.4,
  11.0,7.0,12.8,8.8,6.2,11.6,9.6,7.6,10.8,8.8, 4.2,6.4,8.8,5.4,7.6,6.2,9.8,7.4,6.0,9.2,
  7.6,8.8,6.4,10.0,8.0,9.2,6.8,10.4,8.4,9.8, 9.4,8.0,10.4,9.0,11.2,8.6,10.0,10.8,9.0,11.6,
  2.4,4.4,3.2,5.0,3.6,5.4,4.0,5.8,4.2,6.4, 4.6,6.8,4.0,5.4,6.4,4.4,7.2,5.0,6.0,6.8,
  5.6,6.4,7.0,6.0,7.6,7.2,8.0,8.8,8.2,9.4, 1.6,1.2,2.8,2.0,2.4,3.0,2.8,3.2,3.4,3.8,
  3.4,3.8,4.2,3.6,4.4,5.0,4.8,5.4,6.0,15.0,
  6.2,10.8,4.0,13.2,8.4,5.2,12.0,7.0,14.6,9.2, 4.6,11.6,7.8,13.6,5.6,10.0,3.6,12.6,8.6,15.0,
  6.8,11.0,4.4,13.4,9.4,5.4,12.2,8.0,14.4,6.0, 10.4,7.2,13.0,5.8,11.4,8.6,14.6,5.0,10.8,12.4,
  8.0,13.8,6.2,11.6,9.4,15.2,7.0,12.4,5.6,10.4, 3.2,7.0,5.6,9.6,4.4,8.8,6.6,11.2,5.0,8.0,
  9.0,6.0,11.0,7.4,12.8,6.4,10.0,8.2,13.4,7.0, 9.6,12.0,7.6,13.8,8.8,11.0,6.8,12.8,10.0,8.4,
  2.4,4.8,3.6,6.6,3.0,6.0,4.2,7.4,4.6,6.4, 4.8,3.8,6.0,4.6,5.4,4.2,6.6,5.2,6.2,5.6,
  1.8,3.0,4.0,2.6,3.6,2.2,4.4,3.2,4.2,3.8, 3.4,4.0,3.0,4.6,3.6,5.2,4.2,5.0,4.6,5.6
];
const iodine912Core = [
  30,96,58,140,38,80,118,52,156,68, 106,34,128,72,164,46,92,146,60,114,
  86,30,124,66,160,44,100,136,76,54, 118,36,92,150,58,132,78,104,44,168,
  70,126,48,144,96,60,172,84,112,40, 136,76,106,50,160,90,122,64,146,44,
  102,162,70,130,56,150,84,118,46,138, 76,126,174,64,108,140,52,158,92,120,
  80,146,62,118,172,100,52,136,86,160, 108,68,140,96,164,58,126,86,152,76,
  114,64,144,96,170,82,126,68,150,106, 86,140,68,118,158,102,78,132,106,92,
  56,126,40,92,74,142,46,110,80,28, 74,108,56,136,42,96,122,68,148,84,
  104,46,130,76,118,58,154,88,52,126, 76,118,54,144,96,66,126,82,110,58,
  124,76,146,98,66,132,106,82,120,96, 42,68,98,58,84,66,108,80,64,102,
  82,96,70,110,88,100,74,114,92,108, 104,88,114,100,124,94,110,120,98,128,
  20,44,30,52,36,58,40,62,44,68, 48,72,40,58,68,46,78,52,64,74,
  60,68,76,64,82,78,86,96,90,104, 12,8,24,18,22,28,26,30,34,38,
  34,38,44,36,46,52,50,58,64,537,
  66,118,40,150,92,54,136,76,168,102, 46,128,84,156,60,112,36,144,96,176,
  72,126,44,152,104,56,140,88,164,62, 118,78,150,60,130,94,170,52,122,144,
  88,158,66,130,104,178,74,142,58,118, 34,78,60,110,48,100,74,130,54,92,
  102,66,126,82,148,70,114,92,156,76, 108,140,82,162,100,126,74,148,114,96,
  22,50,36,72,30,64,44,82,50,70, 52,42,66,50,58,46,72,56,68,60,
  14,30,42,26,38,22,48,34,46,40, 36,44,32,50,40,56,46,54,50,60
];
const zinc912Core = [
  2.4,6.6,4.0,9.2,2.8,5.4,8.0,3.6,10.0,4.6, 7.0,2.6,8.6,5.0,10.4,3.4,6.2,9.4,4.2,7.6,
  5.8,2.2,8.2,4.4,10.2,3.2,6.6,8.8,5.2,3.8, 7.8,2.8,6.2,9.6,4.0,8.6,5.4,7.0,3.2,10.6,
  4.8,8.4,3.4,9.2,6.4,4.2,10.6,5.8,7.4,2.8, 8.8,5.2,7.2,3.6,10.0,6.2,8.0,4.4,9.4,3.2,
  6.8,10.2,4.8,8.4,3.8,9.6,5.8,7.8,3.4,8.8, 5.2,8.2,10.8,4.4,7.2,9.0,3.6,10.0,6.2,7.8,
  5.4,9.4,4.2,7.6,10.6,6.6,3.6,8.8,5.8,10.0, 7.2,4.6,9.0,6.4,10.2,4.0,8.2,5.8,9.6,5.2,
  7.4,4.4,9.2,6.4,10.6,5.6,8.2,4.6,9.4,7.0, 5.8,8.8,4.6,7.8,10.0,6.8,5.2,8.4,7.0,6.2,
  3.8,8.2,2.8,6.2,5.0,9.0,3.2,7.2,5.4,2.0, 5.0,7.2,3.8,8.8,3.0,6.4,8.0,4.6,9.4,5.6,
  7.0,3.2,8.4,5.0,7.8,4.0,9.8,6.0,3.6,8.2, 5.0,7.8,3.8,9.2,6.4,4.4,8.2,5.6,7.2,4.0,
  8.0,5.0,9.4,6.4,4.4,8.4,7.0,5.6,7.8,6.4, 3.0,4.6,6.4,3.8,5.6,4.4,7.2,5.4,4.2,6.6,
  5.6,6.4,4.6,7.2,5.8,6.6,5.0,7.6,6.0,7.0, 6.8,5.8,7.6,6.6,8.2,6.2,7.2,7.8,6.6,8.4,
  1.6,3.2,2.2,3.6,2.6,4.0,2.8,4.2,3.0,4.6, 3.4,5.0,2.8,4.0,4.6,3.2,5.2,3.6,4.4,5.0,
  4.0,4.6,5.2,4.4,5.6,5.2,5.8,6.4,6.0,6.8, 1.0,0.8,2.0,1.4,1.8,2.2,2.0,2.4,2.6,2.8,
  2.4,2.8,3.0,2.6,3.2,3.6,3.4,4.0,4.4,9.0,
  4.4,8.2,2.8,9.8,6.0,3.6,9.0,5.0,10.8,6.8, 3.2,8.8,5.6,10.2,4.0,7.4,2.4,9.4,6.2,11.2,
  4.8,8.4,3.0,10.0,7.0,3.8,9.2,5.8,10.8,4.2, 7.8,5.2,9.6,4.0,8.6,6.2,11.0,3.6,8.0,9.2,
  5.8,10.4,4.4,8.6,7.0,11.4,5.0,9.4,4.0,7.6, 2.2,5.0,4.0,7.2,3.2,6.4,4.8,8.4,3.6,5.8,
  6.6,4.2,8.2,5.4,9.6,4.6,7.4,6.0,10.0,5.0, 7.0,9.0,5.4,10.4,6.4,8.2,4.8,9.6,7.4,6.0,
  1.4,3.4,2.4,4.8,2.0,4.2,2.8,5.4,3.2,4.6, 3.4,2.6,4.2,3.2,3.8,3.0,4.6,3.6,4.4,4.0,
  1.0,2.0,2.8,1.8,2.4,1.4,3.0,2.2,2.8,2.6, 2.4,2.8,2.0,3.2,2.6,3.6,3.0,3.4,3.2,3.8
];
// 9-12 years, no cheese (0 g/day)
const calcium912Zero = [8,30,52,75,98,120,145,168,190,215,238,260,285,308,330,355,378,400,425,448,470,495,518,540,565,588,610,635,658,680,705,728,750,775,798,820,845,868,890,915,938,960,985,1000,1030,1060,1085,1100,1130,1160,1185,1210,1370,1390,1440,1470,1530,1640];
const iron912Zero = [1.0,1.5,2.2,2.8,3.3,4.0,4.6,5.1,5.8,6.4,6.9,7.6,8.2,8.7,9.4,10.0,10.5,11.2,11.8,12.3,13.0,13.6,14.1,14.8,15.4,15.9,16.6,17.2,17.7,18.4,19.0,19.5,20.2,20.8,21.3,21.9,23.0,23.5,24.2,24.6,25.0,25.6,26.5,29.1];
const iodine912Zero = [5,12,21,28,37,44,53,60,69,76,85,92,101,108,117,124,133,140,149,156,165,172,181,188,197,204,213,220,229,236,245,252,261,267,275,283,331,371,384];
const zinc912Zero = [0.5,1.0,1.6,2.2,2.7,3.3,3.9,4.4,5.0,5.6,6.1,6.7,7.3,7.8,8.4,9.0,9.5,10.1,10.7,11.2,11.8,12.4,12.9,13.5,14.1,14.6,15.2,15.8,16.3,16.9,17.5,18.0,18.6,19.2,19.7,20.4,23.0,25.1,26.2,28.5,46.5];

// ---- linear fits (solid) and smooth curves (dashed) ----
const fitX68 = [0, 43.0];
const calciumFit68 = [330, 1730];
const ironFit68 = [7.0, 22.5];
const iodineFit68 = [62, 282];
const zincFit68 = [5.6, 18.7];
const fitX912 = [0, 55.2];
const calciumFit912 = [364, 1976];
const ironFit912 = [7.5, 26.5];
const iodineFit912 = [72, 323];
const zincFit912 = [5.6, 22.2];

const smoothX68 = [0, 2.5, 5, 7.5, 10, 12.5, 15, 17.5, 20, 25, 30, 35, 40, 43];
const calciumSmooth68 = [350, 440, 540, 643, 735, 797, 849, 905, 977, 1035, 1083, 1138, 1211, 1273];
const ironSmooth68 = [7.0, 7.8, 8.8, 10.0, 11.4, 12.3, 13.2, 13.6, 13.9, 14.3, 14.5, 14.8, 15.0, 15.1];
const iodineSmooth68 = [70, 82, 95, 110, 126, 138, 151, 157, 163, 171, 175, 178, 184, 190];
const zincSmooth68 = [5.5, 6.2, 7.0, 8.0, 8.9, 9.8, 10.6, 11.2, 11.7, 12.1, 12.3, 12.4, 12.8, 13.1];
const smoothX912 = [0, 5, 10, 12.5, 15, 17.5, 20, 22.5, 25, 30, 35, 40, 47, 55.2];
const calciumSmooth912 = [380, 520, 650, 719, 795, 855, 905, 952, 988, 1056, 1118, 1163, 1242, 1308];
const ironSmooth912 = [7.8, 9.3, 11.0, 11.8, 12.7, 13.4, 13.9, 14.3, 14.7, 15.3, 15.7, 16.2, 16.9, 17.7];
const iodineSmooth912 = [85, 105, 125, 135, 143, 153, 159, 163, 168, 174, 178, 181, 186, 192];
const zincSmooth912 = [6.0, 7.4, 8.9, 9.6, 10.2, 10.6, 11.1, 11.6, 12.1, 12.5, 13.1, 13.5, 14.2, 14.9];

// ---- axes / labels ----
const portionGrams = 15;
const yTitles = ['Calcium intake (mg/day)', 'Iron intake (mg/day)', 'Iodine intake (\u03bcg/day)', 'Zinc intake (mg/day)'];
const yLimits = [2200, 50, 520, 50];
const yTicks = [[0, 500, 1000, 1500, 2000], [0, 10, 20, 30, 40, 50], [0, 100, 200, 300, 400, 500], [0, 10, 20, 30, 40, 50]];
const xTicks68 = [0, 10, 20, 30, 40];
const xTicks912 = [0, 10, 20, 30, 40, 50];
const xTitle = 'Spreadable cheese consumption (gr/day)';
const legendTitle = 'Age';
const ageLabels = ['6-8 years', '9-12 years'];

// the reference sheet is laid out on 3398 x 4740 px; fit it to the window
const REF_W = 3398, REF_H = 4740;
const W = window.innerWidth || REF_W;
const H = window.innerHeight || REF_H;
const FONT = 'Liberation Sans, Arial, Helvetica, sans-serif';
const groups = [
  { x: cheese68.concat(cheese68Core),
    ys: [calcium68.concat(calcium68Core), iron68.concat(iron68Core), iodine68.concat(iodine68Core), zinc68.concat(zinc68Core)],
    zeros: [calcium68Zero, iron68Zero, iodine68Zero, zinc68Zero],
    fitX: fitX68, fits: [calciumFit68, ironFit68, iodineFit68, zincFit68],
    smoothX: smoothX68, smooths: [calciumSmooth68, ironSmooth68, iodineSmooth68, zincSmooth68],
    xmax: 43.0, xticks: xTicks68, color: '#0000FF', symbol: 'circle-open', size: 13, lw: 2.4,
    glyph: '\u25CB', glyphSize: 21, label: ageLabels[0], legendW: 420 },
  { x: cheese912.concat(cheese912Core),
    ys: [calcium912.concat(calcium912Core), iron912.concat(iron912Core), iodine912.concat(iodine912Core), zinc912.concat(zinc912Core)],
    zeros: [calcium912Zero, iron912Zero, iodine912Zero, zinc912Zero],
    fitX: fitX912, fits: [calciumFit912, ironFit912, iodineFit912, zincFit912],
    smoothX: smoothX912, smooths: [calciumSmooth912, ironSmooth912, iodineSmooth912, zincSmooth912],
    xmax: 55.2, xticks: xTicks912, color: '#FF3E96', symbol: 'triangle-up-open', size: 16.5, lw: 2.5,
    glyph: '\u25B3', glyphSize: 24, label: ageLabels[1], legendW: 460 }
];

// plot boxes in reference pixels: [left, top, right, bottom]
const boxes = [
  [[171, 155, 1664, 1004], [1870, 157, 3366, 1006]],
  [[171, 1349, 1664, 2197], [1870, 1348, 3366, 2197]],
  [[171, 2537, 1664, 3385], [1870, 2543, 3366, 3393]],
  [[171, 3722, 1664, 4571], [1870, 3722, 3366, 4571]]
];
const px = v => v / REF_W;
const py = v => 1 - v / REF_H;

const traces = [];
const layout = {
  width: W, height: H,
  margin: { l: 0, r: 0, t: 0, b: 0 },
  paper_bgcolor: '#ffffff', plot_bgcolor: '#ffffff',
  showlegend: false,
  font: { family: FONT, color: '#000000' },
  shapes: [], annotations: []
};

for (let r = 0; r < 4; r++) {
  for (let c = 0; c < 2; c++) {
    const g = groups[c];
    const b = boxes[r][c];
    const k = r * 2 + c + 1;
    const xa = k === 1 ? 'x' : 'x' + k;
    const ya = k === 1 ? 'y' : 'y' + k;
    const lim = yLimits[r];

    layout[k === 1 ? 'xaxis' : 'xaxis' + k] = {
      domain: [px(b[0]), px(b[2])], anchor: ya,
      range: [-0.04 * g.xmax, 1.04 * g.xmax],
      tickvals: g.xticks, ticks: 'outside', ticklen: 17, tickwidth: 2.5, tickcolor: '#444444',
      ticklabelstandoff: 0,
      tickfont: { family: FONT, size: 37, color: '#111111' },
      showline: true, mirror: true, linecolor: '#444444', linewidth: 3,
      showgrid: true, gridcolor: '#E2E2E2', gridwidth: 3, zeroline: false
    };
    layout[k === 1 ? 'yaxis' : 'yaxis' + k] = {
      domain: [py(b[3]), py(b[1])], anchor: xa,
      range: [-0.04 * lim, 1.04 * lim],
      tickvals: yTicks[r], tickangle: -90,
      ticks: 'outside', ticklen: 17, tickwidth: 2.5, tickcolor: '#444444',
      ticklabelstandoff: 10,
      tickfont: { family: FONT, size: 37, color: '#111111' },
      showline: true, mirror: true, linecolor: '#444444', linewidth: 3,
      showgrid: true, gridcolor: '#E2E2E2', gridwidth: 3, zeroline: false
    };

    const marker = { symbol: g.symbol, size: g.size, color: g.color, line: { color: g.color, width: g.lw } };
    traces.push({ type: 'scatter', mode: 'markers', xaxis: xa, yaxis: ya,
      x: g.zeros[r].map(() => 0), y: g.zeros[r], marker: marker, hoverinfo: 'skip' });
    traces.push({ type: 'scatter', mode: 'markers', xaxis: xa, yaxis: ya,
      x: g.x, y: g.ys[r], marker: marker, hoverinfo: 'skip' });
    traces.push({ type: 'scatter', mode: 'lines', xaxis: xa, yaxis: ya,
      x: g.fitX, y: g.fits[r], line: { color: g.color, width: 3.5 }, hoverinfo: 'skip' });
    traces.push({ type: 'scatter', mode: 'lines', xaxis: xa, yaxis: ya,
      x: g.smoothX, y: g.smooths[r], line: { color: g.color, width: 4, dash: '15px,10px', shape: 'spline' }, hoverinfo: 'skip' });
    traces.push({ type: 'scatter', mode: 'lines', xaxis: xa, yaxis: ya,
      x: [portionGrams, portionGrams], y: [0, lim], line: { color: '#FF0000', width: 5, dash: '8px,6px' }, hoverinfo: 'skip' });

    // legend box
    const lt = b[1] - 126, lb = b[1] - 4, ll = b[0], lr = b[0] + g.legendW;
    layout.shapes.push({ type: 'rect', xref: 'paper', yref: 'paper',
      x0: px(ll), x1: px(lr), y0: py(lb), y1: py(lt), line: { color: '#333333', width: 3 }, fillcolor: '#ffffff' });
    layout.annotations.push({ xref: 'paper', yref: 'paper', x: px((ll + lr) / 2), y: py(lt + 30),
      text: legendTitle, showarrow: false, xanchor: 'center', yanchor: 'middle', font: { family: FONT, size: 34, color: '#000' } });
    layout.annotations.push({ xref: 'paper', yref: 'paper', x: px(ll + 30), y: py(lt + 86),
      text: g.glyph, showarrow: false, xanchor: 'center', yanchor: 'middle', font: { family: 'DejaVu Sans', size: g.glyphSize, color: g.color } });
    layout.annotations.push({ xref: 'paper', yref: 'paper', x: px(ll + 61), y: py(lt + 86),
      text: g.label, showarrow: false, xanchor: 'left', yanchor: 'middle', font: { family: FONT, size: 34, color: '#000' } });

    // axis titles
    layout.annotations.push({ xref: 'paper', yref: 'paper', x: px((b[0] + b[2]) / 2), y: py(b[3] + 119),
      text: xTitle, showarrow: false, xanchor: 'center', yanchor: 'middle', font: { family: FONT, size: 39, color: '#000' } });
    layout.annotations.push({ xref: 'paper', yref: 'paper', x: px(b[0] - 122), y: py((b[1] + b[3]) / 2),
      text: yTitles[r], textangle: -90, showarrow: false, xanchor: 'center', yanchor: 'middle', font: { family: FONT, size: 39, color: '#000' } });
    // "1 portion" label under the 15 g line
    layout.annotations.push({ xref: xa, yref: 'paper', x: portionGrams, y: py(b[3] + 35),
      text: '1 portion', showarrow: false, xanchor: 'center', yanchor: 'middle', font: { family: FONT, size: 36, color: '#FF0000' } });
  }
}

Plotly.newPlot('chart', traces, layout, { staticPlot: true, displayModeBar: false });
</script>
</body>
</html>
